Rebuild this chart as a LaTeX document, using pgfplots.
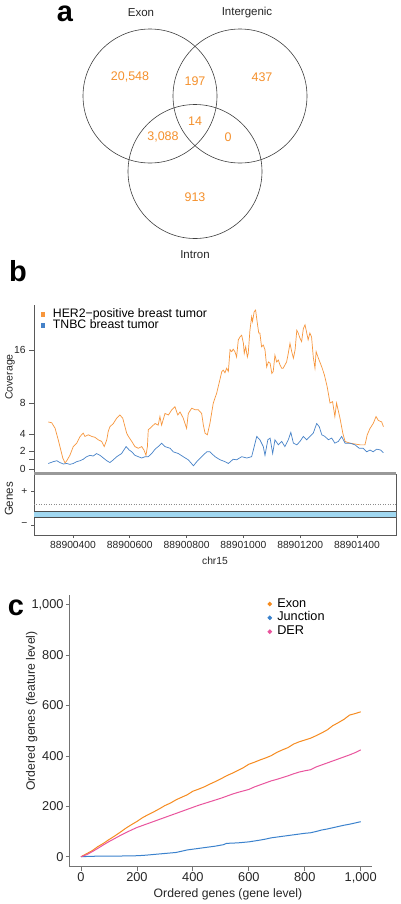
\documentclass[border=0pt]{standalone}
\usepackage{pgfplots}
\pgfplotsset{compat=1.18}
\usepackage{pgfplotstable}
\usepackage{fontspec}
\setmainfont{Liberation Sans}

\definecolor{vennorange}{RGB}{245,145,45}
\definecolor{herorange}{RGB}{247,150,60}
\definecolor{tnbcblue}{RGB}{70,130,200}
\definecolor{exonorange}{RGB}{246,139,31}
\definecolor{juncblue}{RGB}{59,130,205}
\definecolor{derpink}{RGB}{233,84,157}
\definecolor{bandblue}{RGB}{160,215,240}

% panel b: position = value + 88900000
\pgfplotstableread{
pos cov
313 5.5
325 5.4
337 4.7
348 3.3
357 2.1
364 1.2
372 0.65
378 0.9
389 1.5
401 2.5
413 2.9
425 3.7
436 4.1
442 3.7
454 3.9
466 3.7
477 3.6
489 3.3
501 3.1
510 2.5
519 3.3
524 4.3
530 4.9
542 5.3
554 6.0
565 6.4
575 6.0
583 4.9
589 4.1
595 3.7
607 3.1
618 2.5
630 2.3
642 2.5
650 2.1
657 1.5
662 2.5
665 4.5
677 4.9
689 5.3
700 5.1
706 6.2
712 5.1
724 6.6
736 6.4
748 7.1
759 7.5
769 6.4
777 6.8
788 6.0
800 4.7
806 6.6
818 7.3
830 7.1
841 7.1
853 6.6
859 5.1
865 4.1
873 3.9
882 5.3
894 8.0
906 9.4
918 11.5
924 12.6
929 12.8
935 12.4
941 13.1
947 12.6
953 16.1
959 15.8
964 16.2
970 15.8
976 14.9
982 17.8
988 18.3
994 18.6
1000 17.2
1003 15.5
1008 16.6
1014 14.9
1017 15.5
1023 19.5
1029 22.0
1032 21.1
1038 23.0
1043 23.3
1049 20.8
1054 19.0
1058 19.0
1064 16.6
1070 16.9
1076 16.1
1082 13.3
1088 14.1
1094 13.9
1100 12.3
1105 12.6
1111 15.2
1117 14.1
1123 14.4
1129 13.6
1135 13.1
1140 13.1
1146 13.6
1152 14.1
1158 15.5
1164 17.2
1170 15.8
1176 14.7
1182 16.1
1188 19.5
1193 19.0
1199 18.1
1205 17.5
1211 19.8
1217 20.5
1223 19.0
1228 17.8
1234 19.0
1240 18.3
1246 14.9
1252 13.1
1256 15.8
1264 14.7
1276 13.3
1285 12.1
1295 10.3
1305 8.0
1314 8.2
1322 6.2
1328 8.0
1340 6.0
1350 4.1
1358 3.1
1375 2.9
1393 2.8
1411 2.7
1428 2.7
1436 3.9
1446 4.7
1457 5.3
1467 6.2
1475 5.7
1487 5.5
1493 4.9
}\herdata

\pgfplotstableread{
pos cov
313 0.6
331 0.8
343 0.9
354 0.7
366 0.54
378 0.6
389 0.5
401 0.6
413 0.8
425 0.9
436 1.06
448 1.35
460 1.5
471 1.42
483 1.7
495 1.5
507 1.2
519 0.9
530 0.7
542 1.0
554 1.35
571 1.7
587 2.5
598 2.1
607 1.9
618 1.5
630 1.35
642 1.2
654 1.35
665 1.35
677 1.7
689 2.2
700 2.5
712 2.9
724 2.5
742 2.3
753 1.9
771 1.7
788 1.35
806 1.0
824 0.35
836 0.8
853 1.35
871 1.9
882 1.9
900 1.35
918 1.0
935 0.8
947 0.6
964 1.06
976 1.0
994 1.35
1012 1.2
1029 1.35
1038 2.5
1047 3.7
1058 3.3
1070 2.5
1076 1.5
1086 3.3
1094 3.5
1103 1.7
1111 3.3
1123 2.7
1135 3.1
1146 2.5
1158 3.3
1167 4.2
1176 2.9
1188 2.7
1199 3.1
1211 3.7
1223 3.3
1234 3.7
1246 4.1
1258 5.3
1267 4.9
1276 3.9
1287 3.7
1299 3.3
1311 3.5
1322 2.9
1334 3.1
1346 3.7
1358 2.9
1375 2.9
1393 2.7
1408 2.3
1422 2.3
1434 1.9
1446 2.1
1457 1.9
1469 2.2
1483 2.1
1493 1.8
}\tnbcdata

\pgfplotstableread{
x y
0 0
20 12
40 24
60 40
80 53
100 68
120 82
140 97
160 113
180 127
200 140
220 155
240 167
260 178
280 190
300 203
320 213
340 226
360 236
380 246
400 260
420 268
440 277
460 288
480 298
500 309
520 321
540 331
560 342
580 353
600 367
620 375
640 384
660 392
680 401
700 414
720 424
740 433
760 447
780 456
800 463
820 470
840 480
860 491
880 503
900 520
920 532
940 545
960 562
980 568
1000 575
}\exondata

\pgfplotstableread{
x y
0 0
20 1
50 2
100 2
150 3
200 4
230 6
260 9
300 13
340 17
360 22
380 27
400 30
440 36
480 42
510 48
520 53
560 55
600 59
640 66
660 70
680 75
700 78
740 84
780 90
800 93
820 95
840 100
860 106
880 110
900 115
920 120
940 125
960 129
980 134
1000 139
}\juncdata

\pgfplotstableread{
x y
0 0
20 8
40 20
60 33
80 47
100 60
120 72
140 84
160 95
180 106
200 116
220 124
240 132
260 140
280 148
300 156
320 164
340 172
360 180
380 188
400 196
420 204
440 211
460 218
480 225
500 232
520 240
540 248
560 255
580 261
600 267
620 277
640 285
660 293
680 301
700 307
720 314
740 321
760 329
780 336
800 341
820 345
840 356
860 364
880 372
900 380
920 388
940 396
960 404
980 413
1000 424
}\derdata

\begin{document}
\begin{tikzpicture}[x=1bp,y=1bp]
\fill[white] (0,0) rectangle (400,-904);
\path[use as bounding box] (0,0) rectangle (400,-904);

% ---------------- panel a ----------------
\begin{axis}[at={(0bp,0bp)}, anchor=north west, scale only axis,
  width=400bp, height=270bp, xmin=0, xmax=400, ymin=0, ymax=270,
  y dir=reverse, hide axis, clip=false]
\addplot[only marks, mark=o, mark size=67bp,
  mark options={draw=black!75, line width=0.6bp}] table {
x y
150 96
240 96
195 171.5
};
\begin{scope}[every node/.style={font=\fontsize{11.5bp}{13bp}\selectfont, text=black!85}]
\node at (axis cs:141,13) {Exon};
\node at (axis cs:247,13) {Intergenic};
\node at (axis cs:195,255) {Intron};
\end{scope}
\begin{scope}[every node/.style={font=\fontsize{12.5bp}{14bp}\selectfont, text=vennorange}]
\node at (axis cs:130,77) {20,548};
\node at (axis cs:195,81) {197};
\node at (axis cs:262,77) {437};
\node at (axis cs:195,121) {14};
\node at (axis cs:163,137) {3,088};
\node at (axis cs:228,137) {0};
\node at (axis cs:195,197) {913};
\end{scope}
\end{axis}

\begin{scope}[every node/.style={anchor=base, inner sep=0pt, font=\bfseries\fontsize{29bp}{29bp}\selectfont}]
\node at (65bp,-21bp) {a};
\node at (18bp,-281bp) {b};
\node at (16bp,-615bp) {c};
\end{scope}

% ---------------- panel b, coverage ----------------
\begin{axis}[at={(34bp,-473bp)}, anchor=south west, scale only axis,
  width=362bp, height=168bp,
  xmin=262.7, xmax=1537.3, ymin=-0.42, ymax=24.3,
  y coord trafo/.code={\pgfmathparse{ln(#1+28)}},
  y coord inv trafo/.code={\pgfmathparse{exp(#1)-28}},
  axis x line=none, axis y line*=left,
  y axis line style={draw=black!65, line width=0.8bp, -},
  ytick={0,1,2,4,8,16}, yticklabels={0,,2,4,8,16},
  tick align=outside, major tick length=5bp,
  ytick style={draw=black!65, line width=0.7bp},
  yticklabel style={font=\fontsize{10.3bp}{12bp}\selectfont, text=black!85},
  legend style={at={(0.0138,0.979)}, anchor=north west, draw=none, fill=none,
    inner sep=0pt, font=\fontsize{12.3bp}{12bp}\selectfont, row sep=0bp,
    nodes={inner sep=0pt, text height=8.5bp, text depth=2.5bp}},
  legend cell align=left,
  legend image code/.code={\fill[#1] (2bp,-1.7bp) rectangle (5.4bp,1.7bp); \path[draw=none, fill=none] (0bp,0bp) rectangle (13.7bp,0.1bp);},
]
\addplot[herorange, line width=0.7bp] table[x=pos, y=cov] {\herdata};
\addlegendentry{HER2−positive breast tumor}
\addplot[tnbcblue, line width=0.7bp] table[x=pos, y=cov] {\tnbcdata};
\addlegendentry{TNBC breast tumor}
\end{axis}
\node[rotate=90, font=\fontsize{10.5bp}{12bp}\selectfont, text=black!85] at (10bp,-377bp) {Coverage};

% ---------------- panel b, genes ----------------
\begin{axis}[at={(34bp,-535bp)}, anchor=south west, scale only axis,
  width=362bp, height=61bp,
  xmin=262.7, xmax=1537.3, ymin=0, ymax=1,
  axis line style={draw=black!65, line width=0.8bp},
  xtick={400,600,800,1000,1200,1400},
  xticklabels={88900400,88900600,88900800,88901000,88901200,88901400},
  ytick={0.164,0.71}, yticklabels={−,+},
  xtick pos=lower, ytick pos=left,
  tick align=outside, major tick length=3bp,
  tick style={draw=black!65, line width=0.7bp},
  ticklabel style={font=\fontsize{10.3bp}{12bp}\selectfont, text=black!85},
]
\addplot[fill=bandblue, draw=none] coordinates {(262.7,0.29) (1537.3,0.29) (1537.3,0.382) (262.7,0.382) (262.7,0.29)};
\addplot[black!70, line width=0.9bp] coordinates {(262.7,0.382) (1537.3,0.382)};
\addplot[black!70, line width=0.9bp] coordinates {(262.7,0.29) (1537.3,0.29)};
\addplot[black!45, dotted, line width=0.5bp] coordinates {(262.7,0.50) (1537.3,0.50)};
\end{axis}
\draw[black!40, line width=2.2bp] (34bp,-473.5bp) -- (396bp,-473.5bp);
\node[rotate=90, font=\fontsize{11.5bp}{12bp}\selectfont, text=black!85] at (9bp,-499bp) {Genes};
\node[font=\fontsize{10.3bp}{12bp}\selectfont, text=black!85] at (215bp,-561bp) {chr15};

% ---------------- panel c ----------------
\begin{axis}[at={(69.8bp,-866.8bp)}, anchor=south west, scale only axis,
  width=302.1bp, height=272.2bp,
  xmin=-40, xmax=1040, ymin=-40, ymax=1040,
  axis x line*=bottom, axis y line*=left,
  axis line style={draw=black!55, line width=0.8bp, -},
  xtick={0,200,400,600,800,1000}, ytick={0,200,400,600,800,1000},
  xticklabels={0,200,400,600,800,{1,000}},
  yticklabels={0,200,400,600,800,{1,000}},
  tick align=outside, major tick length=4bp,
  tick style={draw=black!55, line width=0.8bp},
  ticklabel style={font=\fontsize{12.8bp}{14bp}\selectfont, text=black!85, inner sep=2bp},
  legend style={at={(0.654,0.990)}, anchor=north west, draw=none, fill=none,
    inner sep=0pt, font=\fontsize{12.7bp}{13bp}\selectfont, row sep=0.8bp,
    nodes={inner sep=0.5bp, text height=9bp, text depth=3bp}},
  legend cell align=left,
  legend image code/.code={\fill[#1] (1.7bp,0bp) circle (1.7bp); \path[draw=none, fill=none] (0bp,-0.05bp) rectangle (8.7bp,0.05bp);},
]
\addplot[exonorange, line width=1bp] table {\exondata};
\addlegendentry{Exon}
\addplot[juncblue, line width=1bp] table {\juncdata};
\addlegendentry{Junction}
\addplot[derpink, line width=1bp] table {\derdata};
\addlegendentry{DER}
\end{axis}
\node[rotate=90, font=\fontsize{12.2bp}{14bp}\selectfont, text=black!85] at (31.7bp,-711bp) {Ordered genes (feature level)};
\node[font=\fontsize{12.2bp}{14bp}\selectfont, text=black!85] at (228bp,-894bp) {Ordered genes (gene level)};
\end{tikzpicture}
\end{document}
